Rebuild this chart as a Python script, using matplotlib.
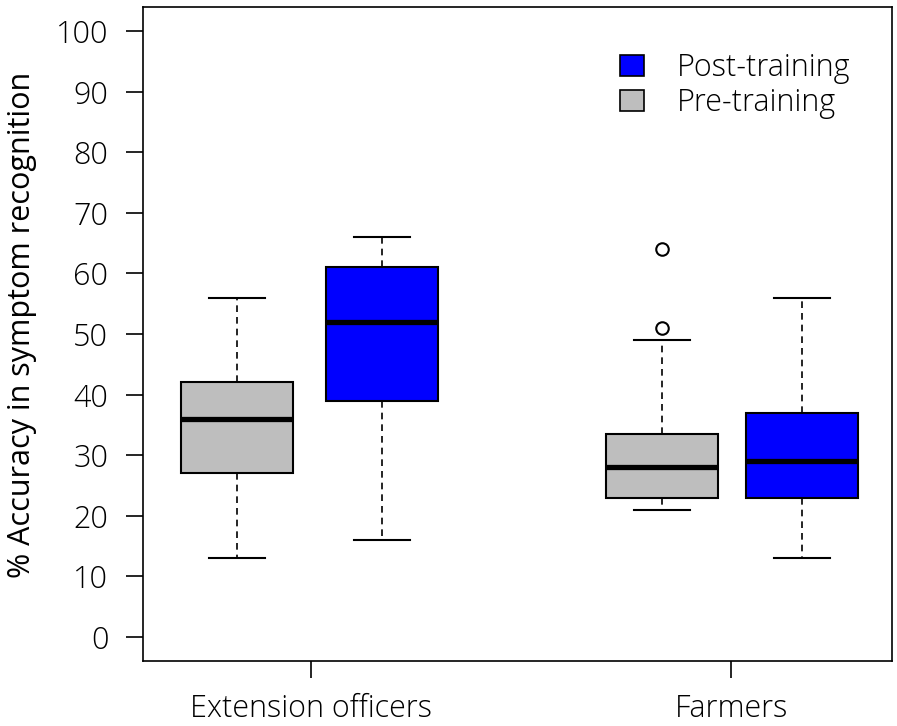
import matplotlib
matplotlib.use("Agg")
import matplotlib.pyplot as plt
from matplotlib.patches import Patch

plt.rcParams['font.family'] = ['Open Sans', 'DejaVu Sans']
plt.rcParams['font.weight'] = 'light'
plt.rcParams['text.color'] = 'black'
plt.rcParams['xtick.color'] = 'black'
plt.rcParams['ytick.color'] = 'black'

# five-number summaries
labels = ["Ext pre", "Ext post", "Farm pre", "Farm post"]
whislo = [13, 16, 21, 13]
q1 = [27, 39, 23, 23]
med = [36, 52, 28, 29]
q3 = [42, 61, 33.5, 37]
whishi = [56, 66, 49, 56]
fliers = [[], [], [51, 64], []]
colors = ["#bebebe", "#0000ff", "#bebebe", "#0000ff"]

group_names = ["Extension officers", "Farmers"]
yticks = [0, 10, 20, 30, 40, 50, 60, 70, 80, 90, 100]

stats = []
for i in range(len(labels)):
    stats.append({"label": labels[i], "whislo": whislo[i], "q1": q1[i], "med": med[i],
                  "q3": q3[i], "whishi": whishi[i], "fliers": fliers[i]})

positions = [0.978, 2.023, 4.042, 5.051]
group_pos = [1.51, 4.54]
fs = 22

fig = plt.figure(figsize=(8.97, 7.26), dpi=100)
ax = fig.add_axes([143 / 897, 1 - 661 / 726, (892 - 143) / 897, (661 - 7) / 726])

bp = ax.bxp(stats, positions=positions, widths=0.81, patch_artist=True,
            boxprops=dict(linewidth=1.5, edgecolor="black"),
            medianprops=dict(color="black", linewidth=3.8, solid_capstyle="butt"),
            whiskerprops=dict(color="black", linewidth=1.2, linestyle=(0, (4, 3))),
            capprops=dict(color="black", linewidth=1.5),
            capwidths=0.4,
            flierprops=dict(marker="o", markersize=9, markerfacecolor="none",
                            markeredgecolor="black", markeredgewidth=1.5))
for patch, c in zip(bp["boxes"], colors):
    patch.set_facecolor(c)

ax.set_xlim(0.3, 5.7)
ax.set_ylim(-4, 104)
ax.set_yticks(yticks)
ax.set_xticks(group_pos)
ax.set_xticklabels(group_names)
ax.tick_params(axis="both", direction="out", length=12, width=1.2, labelsize=fs)
ax.tick_params(axis="y", pad=13)
ax.tick_params(axis="x", pad=11)
for s in ax.spines.values():
    s.set_linewidth(1.2)
ax.set_ylabel("% Accuracy in symptom recognition", fontsize=fs)
ax.yaxis.set_label_coords(-0.142, 0.514)

handles = [Patch(facecolor="#0000ff", edgecolor="black", linewidth=1.2, label="Post-training"),
           Patch(facecolor="#bebebe", edgecolor="black", linewidth=1.2, label="Pre-training")]
ax.legend(handles=handles, loc="upper left", bbox_to_anchor=(620 / 897, 1 - 52 / 726),
          bbox_transform=fig.transFigure, frameon=False, borderpad=0, borderaxespad=0,
          fontsize=fs, handlelength=0.8, handleheight=0.66, handletextpad=1.05,
          labelspacing=0.1)

fig.savefig("out.png", dpi=100)
